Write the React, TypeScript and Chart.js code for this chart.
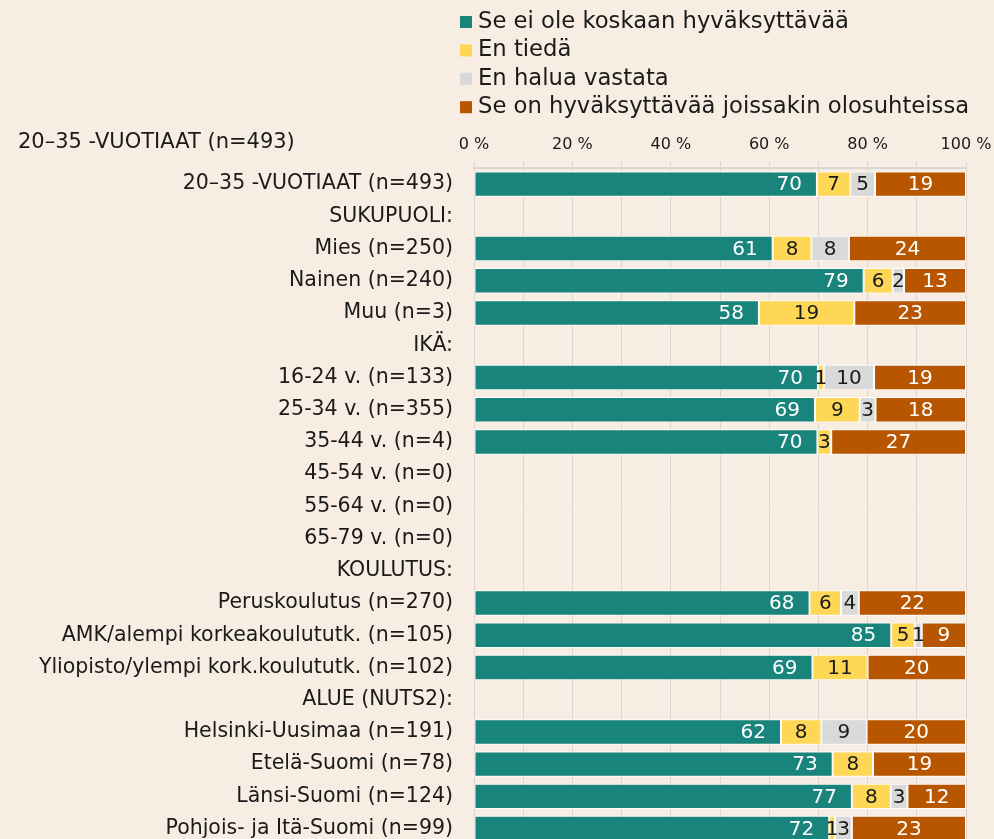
import React, { useEffect, useRef } from "react";
import { Chart, registerables } from "chart.js";

Chart.register(...registerables);

const chartTitle = "20–35 -VUOTIAAT (n=493)";

const categories = [
  "20–35 -VUOTIAAT (n=493)",
  "SUKUPUOLI:",
  "Mies (n=250)",
  "Nainen (n=240)",
  "Muu (n=3)",
  "IKÄ:",
  "16-24 v. (n=133)",
  "25-34 v. (n=355)",
  "35-44 v. (n=4)",
  "45-54 v. (n=0)",
  "55-64 v. (n=0)",
  "65-79 v. (n=0)",
  "KOULUTUS:",
  "Peruskoulutus (n=270)",
  "AMK/alempi korkeakoulututk. (n=105)",
  "Yliopisto/ylempi kork.koulututk. (n=102)",
  "ALUE (NUTS2):",
  "Helsinki-Uusimaa (n=191)",
  "Etelä-Suomi (n=78)",
  "Länsi-Suomi (n=124)",
  "Pohjois- ja Itä-Suomi (n=99)",
];

const neverAcceptable = [69.7, null, 60.7, 79.2, 57.9, null, 69.9, 69.3, 69.8, null, null, null, null, 68.2, 84.8, 68.8, null, 62.4, 72.9, 76.8, 72.2];
const dontKnow = [6.8, null, 7.9, 5.9, 19.4, null, 1.2, 9.1, 2.8, null, null, null, null, 6.4, 4.8, 11.2, null, 8.2, 8.2, 7.9, 1.2];
const noAnswer = [5.0, null, 7.6, 2.3, 0, null, 10.2, 3.2, 0, null, null, null, null, 3.6, 1.4, 0, null, 9.2, 0, 3.4, 3.4];
const sometimesAcceptable = [18.5, null, 23.8, 12.6, 22.7, null, 18.7, 18.4, 27.4, null, null, null, null, 21.8, 9.0, 20.0, null, 20.2, 18.9, 11.9, 23.2];

const seriesNames = [
  "Se ei ole koskaan hyväksyttävää",
  "En tiedä",
  "En halua vastata",
  "Se on hyväksyttävää joissakin olosuhteissa",
];
const seriesColors = ["#18847B", "#FFD757", "#D9D9D9", "#B85600"];
const labelColors = ["#FFFFFF", "#1A1A1A", "#1A1A1A", "#FFFFFF"];

const BG = "#F7EDE3";
const FONT = "'DejaVu Sans', sans-serif";
const TEXT = "#1A1A1A";

const overlayPlugin = {
  id: "overlay",
  afterDatasetsDraw(chart: any) {
    const ctx = chart.ctx;
    ctx.save();
    ctx.font = `20px ${FONT}`;
    ctx.textBaseline = "middle";
    chart.data.datasets.forEach((ds: any, di: number) => {
      const meta = chart.getDatasetMeta(di);
      meta.data.forEach((bar: any, i: number) => {
        const v = ds.data[i];
        if (v === null || v === undefined || v <= 0) return;
        const txt = String(Math.round(v));
        ctx.fillStyle = labelColors[di];
        if (di === 0) {
          ctx.textAlign = "right";
          ctx.fillText(txt, bar.x - 15, bar.y + 1);
        } else {
          ctx.textAlign = "center";
          ctx.fillText(txt, (bar.x + bar.base) / 2, bar.y + 1);
        }
      });
    });
    ctx.restore();
  },
  afterDraw(chart: any) {
    const ctx = chart.ctx;
    ctx.save();
    ctx.textBaseline = "middle";
    ctx.textAlign = "left";
    ctx.font = `22.7px ${FONT}`;
    seriesNames.forEach((name, i) => {
      const y = 22 + i * 28.4;
      ctx.fillStyle = seriesColors[i];
      ctx.fillRect(460, y - 6, 12, 12);
      ctx.fillStyle = TEXT;
      ctx.fillText(name, 478, y);
    });
    ctx.font = `21px ${FONT}`;
    ctx.fillStyle = TEXT;
    ctx.fillText(chartTitle, 18, 143);
    ctx.restore();
  },
};

export default function App() {
  const ref = useRef<HTMLCanvasElement | null>(null);
  useEffect(() => {
    document.body.style.margin = "0";
    document.body.style.background = BG;
    const canvas = ref.current;
    if (!canvas) return;
    const chart = new Chart(canvas, {
      type: "bar",
      data: {
        labels: categories,
        datasets: [neverAcceptable, dontKnow, noAnswer, sometimesAcceptable].map((d, i) => ({
          label: seriesNames[i],
          data: d,
          backgroundColor: seriesColors[i],
          borderColor: "#FFFFFF",
          borderWidth: 1,
          borderSkipped: false,
          categoryPercentage: 1,
          barPercentage: 0.79,
        })),
      },
      options: {
        indexAxis: "y",
        responsive: false,
        animation: false,
        layout: { padding: { top: 0, left: 0, right: 28, bottom: 6 } },
        plugins: {
          legend: { display: false },
          tooltip: { enabled: false },
          title: { display: false },
        },
        scales: {
          x: {
            position: "top",
            stacked: true,
            min: 0,
            max: 100,
            afterFit: (s: any) => {
              s.height = 168;
              s.paddingLeft = 0;
              s.paddingRight = 0;
            },
            ticks: {
              stepSize: 10,
              autoSkip: false,
              maxRotation: 0,
              padding: 8,
              color: TEXT,
              font: { family: FONT, size: 16 },
              callback: (v: any) => (Number(v) % 20 === 0 ? `${v} %` : ""),
            },
            grid: {
              color: "#DAD6D2",
              lineWidth: 1,
              tickLength: 6,
              drawOnChartArea: true,
            },
            border: { color: "#DAD6D2", width: 2 },
          },
          y: {
            stacked: true,
            afterFit: (s: any) => {
              s.width = 474;
            },
            ticks: {
              autoSkip: false,
              padding: 21,
              color: TEXT,
              font: { family: FONT, size: 20.5 },
            },
            grid: { display: false, drawTicks: false },
            border: { display: false },
          },
        },
      },
      plugins: [overlayPlugin],
    });
    return () => chart.destroy();
  }, []);
  return (
    <div style={{ width: 994, height: 839, overflow: "hidden", background: BG }}>
      <canvas ref={ref} width={994} height={878} style={{ display: "block" }} />
    </div>
  );
}
